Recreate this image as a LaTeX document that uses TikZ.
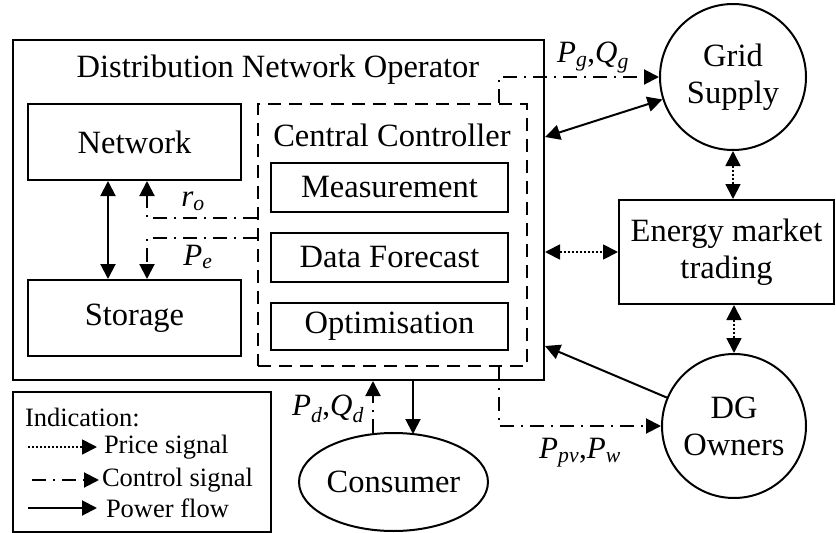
\documentclass[tikz,border=0pt]{standalone}
\usepackage{amsmath}
\usepackage{fontspec}
\setmainfont{Liberation Serif}
\usetikzlibrary{arrows.meta,shapes.geometric}

\newcommand{\pq}[2]{$\textit{#1}_{\textit{#2}}$}

\begin{document}
\begin{tikzpicture}[
      x=1pt, y=-1pt,
      line width=2pt,
      >={Triangle[length=15pt,width=15pt]},
      power/.style={draw=black},
      price/.style={draw=black, line width=1.8pt, dash pattern=on 2pt off 2pt},
      ctrl/.style={draw=black, dash pattern=on 14pt off 7pt on 2pt off 7pt},
      box/.style={draw, rectangle, inner sep=0pt, font=\fontsize{32.5}{37}\selectfont,
        align=center},
      party/.style={draw, circle, inner sep=0pt, font=\fontsize{32.5}{37}\selectfont,
        align=center},
      sig/.style={font=\fontsize{31}{34}\selectfont, inner sep=0pt},
      legtext/.style={font=\fontsize{26.5}{30}\selectfont, anchor=west, inner sep=0pt}
    ]
    \useasboundingbox (0,0) rectangle (836,533);

    % Operator
    \node[box, minimum width=531pt, minimum height=340pt] (dno) at (278.5,210) {};
    \node[font=\fontsize{32.5}{37}\selectfont] (dnotitle) at (278,70)
      {Distribution Network Operator};
    \node[box, minimum width=213pt, minimum height=76pt] (net) at (134.5,142) {Network};
    \node[box, minimum width=213pt, minimum height=76pt] (sto) at (134.5,318) {Storage};
    \node[box, dash pattern=on 13pt off 8pt, minimum width=269pt,
      minimum height=262pt] (cc) at (392.5,235) {};
    \node[font=\fontsize{32.5}{37}\selectfont] (cctitle) at (392,135) {Central Controller};
    \node[box, minimum width=237pt, minimum height=49pt] (meas) at (389.5,187.5)
      {Measurement};
    \node[box, minimum width=237pt, minimum height=49pt] (fore) at (389.5,257.5)
      {Data Forecast};
    \node[box, minimum width=237pt, minimum height=47pt] (opt) at (389.5,326.5)
      {Optimisation};

    \draw[power,<->] ([shift={(-26.5,0)}]net.south) -- ([shift={(-26.5,0)}]sto.north);
    \draw[ctrl,->] ([shift={(0,-17)}]cc.west) -| ([shift={(12.5,0)}]net.south);
    \draw[ctrl,->] ([shift={(0,3)}]cc.west) -| ([shift={(12.5,0)}]sto.north);
    \node[sig] (ro) at (193,201) {\pq{r}{o}};
    \node[sig] (pe) at (198,257) {\pq{P}{e}};

    % Outside parties
    \node[party, minimum size=146pt] (grid) at (733,77) {Grid\\Supply};
    \node[box, minimum width=215pt, minimum height=104pt] (em) at (726.5,252)
      {Energy market\\trading};
    \node[party, minimum size=144pt] (dg) at (734,426) {DG\\Owners};
    \node[draw, ellipse, inner sep=0pt, minimum width=175pt, minimum height=98pt,
      font=\fontsize{32.5}{37}\selectfont] (cons) at (393.5,482) {Consumer};

    \draw[power,<->] ([shift={(0,-73)}]dno.east) -- (grid);
    \draw[power,->] (dg) -- ([shift={(0,136)}]dno.east);
    \draw[price,<->] (dno.east |- em.west) -- (em.west);
    \draw[price,<->] (grid.south) -- (grid.south |- em.north);
    \draw[price,<->] (em.south -| dg.north) -- (dg.north);
    \draw[ctrl,->] ([shift={(106.5,0)}]cc.north) |- (grid.west);
    \draw[ctrl,->] ([shift={(106.5,0)}]cc.south) |- (dg.west);
    \draw[power,->] ([shift={(134.5,0)}]dno.south) -- ([shift={(19.5,2)}]cons.north);
    \draw[ctrl,->] ([shift={(-20.5,1)}]cons.north) -- ([shift={(94.5,0)}]dno.south);
    \node[sig] (pgqg) at (593,58) {\pq{P}{g},\pq{Q}{g}};
    \node[sig] (pvw) at (580,453) {\pq{P}{pv},\pq{P}{w}};
    \node[sig] (pdqd) at (328,409) {\pq{P}{d},\pq{Q}{d}};

    % Legend
    \node[box, minimum width=258pt, minimum height=140pt] (leg) at (142,462) {};
    \node[legtext] (legtitle) at (24,417) {Indication:};
    \coordinate (l1a) at (28,447);  \coordinate (l1b) at (97,447);
    \coordinate (l2a) at (32,480);  \coordinate (l2b) at (99,480);
    \coordinate (l3a) at (28,508);  \coordinate (l3b) at (97,508);
    \draw[price,->] (l1a) -- (l1b);
    \draw[ctrl,->] (l2a) -- (l2b);
    \draw[power,->] (l3a) -- (l3b);
    \node[legtext] (legprice) at (103,447) {Price signal};
    \node[legtext] (legctrl) at (101,480) {Control signal};
    \node[legtext] (legpower) at (105,508) {Power flow};
  \end{tikzpicture}
\end{document}
